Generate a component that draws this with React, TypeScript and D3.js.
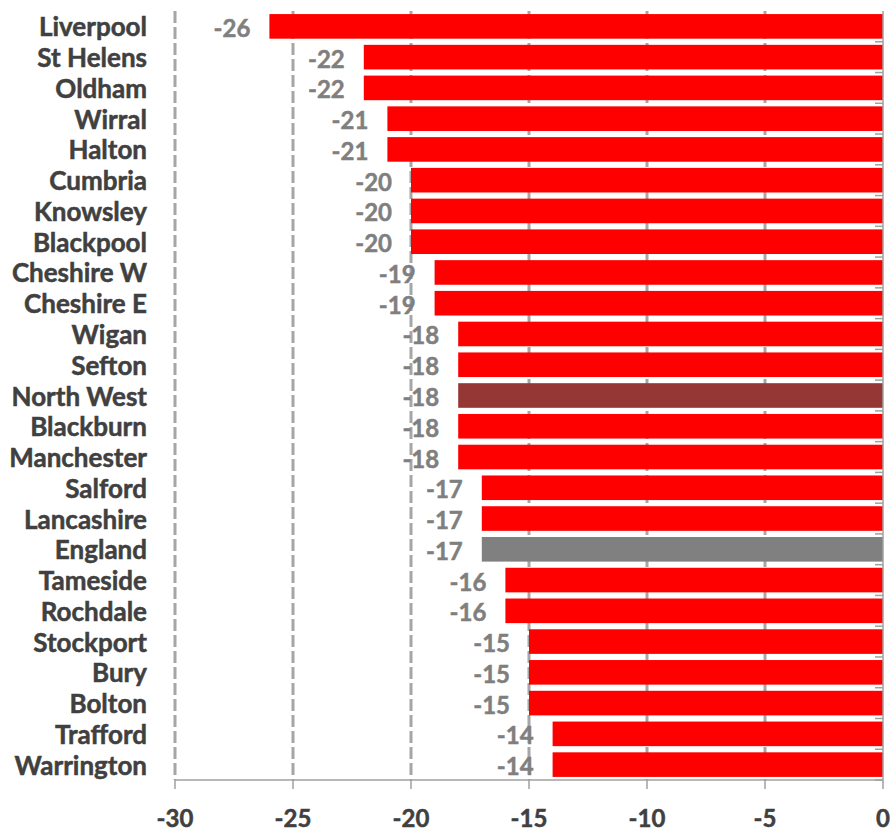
import React from "react";
import * as d3 from "d3";

// Change by area, North West authorities with regional and national comparators
const areas = [
  "Liverpool", "St Helens", "Oldham", "Wirral", "Halton", "Cumbria", "Knowsley",
  "Blackpool", "Cheshire W", "Cheshire E", "Wigan", "Sefton", "North West",
  "Blackburn", "Manchester", "Salford", "Lancashire", "England", "Tameside",
  "Rochdale", "Stockport", "Bury", "Bolton", "Trafford", "Warrington",
];
const changes = [
  -26, -22, -22, -21, -21, -20, -20, -20, -19, -19, -18, -18, -18,
  -18, -18, -17, -17, -17, -16, -16, -15, -15, -15, -14, -14,
];
const xTicks = [-30, -25, -20, -15, -10, -5, 0];

const W = 893;
const H = 831;
const FONT = "Lato, 'Open Sans', sans-serif";

const barColour = (name: string) =>
  name === "North West" ? "#953735" : name === "England" ? "#808080" : "#FF0000";

export default function App() {
  const x = d3.scaleLinear().domain([-30, 0]).range([175, 883]);
  const y = d3
    .scaleBand<string>()
    .domain(areas)
    .range([11, 780])
    .paddingInner(0.2)
    .paddingOuter(0.1);
  const axisY = 780;
  const rows = areas.map((a, i) => ({ area: a, value: changes[i] }));
  const step = y.step();

  return (
    <svg
      width={W}
      height={H}
      style={{ position: "absolute", left: 0, top: 0, background: "#fff" }}
      fontFamily={FONT}
    >
      {/* dashed vertical gridlines */}
      {xTicks
        .filter((t) => t !== 0)
        .map((t) => (
          <line
            key={"g" + t}
            x1={x(t)}
            x2={x(t)}
            y1={11}
            y2={axisY}
            stroke="#A6A6A6"
            strokeWidth={3}
            strokeDasharray="12,4"
          />
        ))}

      {/* bars */}
      {rows.map((d) => (
        <rect
          key={"b" + d.area}
          x={x(d.value)}
          y={y(d.area)}
          width={x(0) - x(d.value)}
          height={y.bandwidth()}
          fill={barColour(d.area)}
        />
      ))}

      {/* category axis at zero */}
      <line x1={x(0)} x2={x(0)} y1={11} y2={axisY} stroke="#A0A0A0" strokeWidth={1.5} />
      {areas.map((a, i) => (
        <line
          key={"ct" + a}
          x1={x(0) - 8}
          x2={x(0)}
          y1={11 + step * (i + 1)}
          y2={11 + step * (i + 1)}
          stroke="#A0A0A0"
          strokeWidth={1.5}
        />
      ))}

      {/* value axis */}
      <line x1={x(-30)} x2={x(0)} y1={axisY} y2={axisY} stroke="#A0A0A0" strokeWidth={1.5} />
      {xTicks.map((t) => (
        <g key={"t" + t}>
          <line x1={x(t)} x2={x(t)} y1={axisY} y2={axisY + 9} stroke="#A0A0A0" strokeWidth={1.5} />
          <text
            x={x(t)}
            y={817}
            textAnchor="middle"
            dominantBaseline="central"
            fontSize={24}
            fontWeight={700}
            fill="#404040"
            stroke="#404040"
            strokeWidth={0.5}
          >
            {t}
          </text>
        </g>
      ))}

      {/* category labels */}
      {areas.map((a) => (
        <text
          key={"c" + a}
          x={147}
          y={(y(a) as number) + y.bandwidth() / 2}
          textAnchor="end"
          dominantBaseline="central"
          fontSize={26}
          fontWeight={700}
          fill="#404040"
          stroke="#404040"
          strokeWidth={0.5}
        >
          {a}
        </text>
      ))}

      {/* value labels */}
      {rows.map((d) => (
        <text
          key={"v" + d.area}
          x={x(d.value) - 19}
          y={(y(d.area) as number) + y.bandwidth() / 2 + 1}
          textAnchor="end"
          dominantBaseline="central"
          fontSize={24}
          fontWeight={700}
          fill="#7F7F7F"
          stroke="#7F7F7F"
          strokeWidth={0.5}
        >
          {d.value}
        </text>
      ))}
    </svg>
  );
}
